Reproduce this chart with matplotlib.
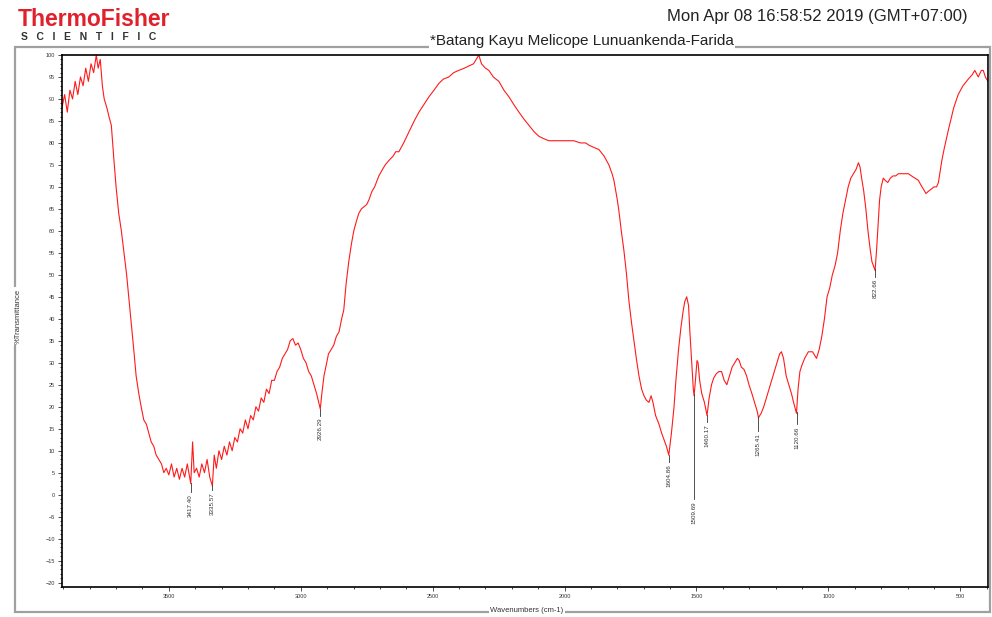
import numpy as np
import matplotlib
matplotlib.use("Agg")
import matplotlib.pyplot as plt
from matplotlib.ticker import MultipleLocator
from matplotlib.patches import Rectangle

# IR spectrum, wavenumber (cm-1) vs %T
wavenumber = [
    3905, 3895, 3885, 3875, 3865, 3855, 3845, 3835, 3825, 3815,
    3805, 3795, 3785, 3775, 3768, 3760, 3752, 3745, 3735, 3727,
    3718, 3708, 3700, 3690, 3680, 3670, 3660, 3652, 3642, 3633,
    3624, 3614, 3605, 3595, 3585, 3576, 3567, 3557, 3548, 3538,
    3528, 3519, 3510, 3500, 3490, 3480, 3470, 3460, 3450, 3440,
    3430, 3417, 3410, 3404, 3395, 3385, 3375, 3365, 3355, 3345,
    3335, 3328, 3320, 3310, 3300, 3290, 3280, 3270, 3260, 3250,
    3240, 3230, 3220, 3210, 3200, 3190, 3180, 3170, 3160, 3150,
    3140, 3130, 3120, 3110, 3100, 3090, 3080, 3070, 3060, 3050,
    3040, 3030, 3020, 3010, 3000, 2990, 2980, 2970, 2960, 2950,
    2940, 2932, 2926, 2920, 2912, 2905, 2895, 2885, 2875, 2865,
    2855, 2845, 2837, 2828, 2818, 2808, 2799, 2790, 2780, 2770,
    2760, 2750, 2742, 2730, 2720, 2704, 2690, 2680, 2666, 2650,
    2640, 2628, 2610, 2590, 2570, 2552, 2530, 2514, 2495, 2477,
    2460, 2439, 2420, 2401, 2380, 2363, 2345, 2330, 2325, 2315,
    2300, 2287, 2270, 2249, 2230, 2211, 2190, 2173, 2155, 2135,
    2115, 2097, 2080, 2060, 2040, 2022, 2000, 1980, 1965, 1940,
    1920, 1908, 1890, 1870, 1850, 1832, 1820, 1813, 1800, 1794,
    1785, 1775, 1765, 1756, 1746, 1737, 1728, 1718, 1708, 1699,
    1690, 1680, 1672, 1665, 1655, 1642, 1632, 1623, 1614, 1605,
    1595, 1585, 1578, 1568, 1559, 1550, 1544, 1537, 1530, 1525,
    1518, 1512, 1509, 1504, 1498, 1494, 1488, 1480, 1470, 1460,
    1452, 1443, 1435, 1425, 1415, 1405, 1395, 1385, 1375, 1365,
    1355, 1345, 1338, 1330, 1320, 1310, 1301, 1290, 1280, 1270,
    1265, 1255, 1245, 1235, 1225, 1215, 1205, 1195, 1185, 1178,
    1170, 1160, 1150, 1140, 1132, 1121, 1115, 1108, 1100, 1090,
    1076, 1060, 1045, 1035, 1025, 1015, 1005, 995, 985, 975,
    965, 955, 945, 935, 925, 915, 905, 895, 886, 880,
    874, 866, 858, 850, 842, 835, 829, 823, 817, 812,
    806, 800, 792, 785, 775, 765, 755, 745, 735, 720,
    710, 697, 685, 672, 659, 650, 640, 630, 621, 610,
    600, 590, 583, 570, 560, 545, 535, 525, 508, 490,
    470, 455, 445, 432, 420, 413, 405, 395,
]
transmittance = [
    88, 91, 87, 92, 90, 94, 91, 95, 93, 97,
    94, 98, 96, 100, 97, 99, 93, 90, 88, 86,
    84, 76, 70, 64, 60, 55, 50, 45, 39, 33,
    27, 23, 20, 17, 16, 14, 12, 11, 9, 8,
    7, 5, 6, 4.5, 7, 4, 6, 3.5, 6, 4,
    7, 2.5, 12, 5, 6, 4, 7, 5, 8, 4,
    2, 9, 6, 10, 8, 11, 9, 12, 10, 13,
    12, 15, 14, 17, 15, 18, 17, 20, 19, 22,
    21, 24, 23, 26, 26, 28, 29, 31, 32, 33,
    35, 35.5, 34, 34.5, 33, 31, 30, 28, 27, 25,
    23, 21, 19.5, 23, 27, 29, 32, 33, 34, 36,
    37, 40, 42, 48, 53, 57, 60, 62, 64, 65,
    65.5, 66, 67, 69, 70, 72.5, 74, 75, 76, 77,
    78, 78, 80, 82.5, 85, 87, 89, 90.5, 92, 93.5,
    94.5, 95, 96, 96.5, 97, 97.5, 98, 99.5, 100, 98,
    97, 96.5, 95, 94, 92, 90.5, 88.5, 87, 85.5, 84,
    82.5, 81.5, 81, 80.5, 80.5, 80.5, 80.5, 80.5, 80.5, 80,
    80, 79.5, 79, 78.5, 77, 75, 73, 71.5, 67, 64.5,
    60, 55.5, 50, 44, 39, 35, 31, 27, 24, 22.5,
    21.5, 21, 22.5, 21, 18, 16, 14, 12.5, 11, 9,
    14, 20, 26, 33, 38, 42, 44, 45, 43, 37,
    30, 24, 22.5, 26, 30.5, 30, 26, 23, 21, 18,
    22, 25, 26.5, 27.5, 28, 28, 26, 25, 27, 29,
    30, 31, 30.5, 29, 28.5, 27, 25, 23, 21, 19,
    17.5, 18.5, 20, 22, 24, 26, 28, 30, 32, 32.5,
    31, 27, 25, 23, 21, 18.5, 24, 28, 29.5, 31,
    32.5, 32.5, 31, 33, 36, 40, 45, 47, 50, 52,
    55, 60, 64, 67, 70, 72, 73, 74, 75.5, 74.5,
    72, 69, 65, 60, 56, 53, 52, 51, 56, 61,
    67, 70, 72, 71.5, 71, 72, 72.5, 72.5, 73, 73,
    73, 73, 72.5, 72, 71.5, 70.5, 69.5, 68.5, 69, 69.5,
    70, 70, 71, 76, 79, 83, 85.5, 88, 91, 93,
    94.5, 95.5, 96.5, 95, 96.5, 96.5, 95, 94,
]

# peak picks and where their labels start (in %T)
peak_wn = [3417.40, 3335.57, 2926.29, 1604.86, 1509.69, 1460.17, 1265.41, 1120.66, 822.66]
peak_text = ["3417.40", "3335.57", "2926.29", "1604.86", "1509.69", "1460.17", "1265.41", "1120.66", "822.66"]
label_top = [0.5, 1.0, 18, 7.5, -1, 16.5, 14.5, 16, 49.5]

W, H = 992, 617
fig = plt.figure(figsize=(W / 100, H / 100), dpi=100)
plt.rcParams['font.family'] = ['Liberation Sans', 'DejaVu Sans']

def fx(px):
    return px / W

def fy(py):
    return 1 - py / H

# grey outer frame
fig.add_artist(Rectangle((fx(15), fy(612)), fx(990) - fx(15), fy(47) - fy(612),
                         transform=fig.transFigure, fill=False, ec='#a0a0a0', lw=1.6))

ax = fig.add_axes([fx(62), fy(587), fx(988) - fx(62), fy(55) - fy(587)])
ax.plot(wavenumber, transmittance, color='#ff1a1a', lw=0.8)

wn_sorted = np.array(wavenumber[::-1], dtype=float)
t_sorted = np.array(transmittance[::-1], dtype=float)
for w, txt, top in zip(peak_wn, peak_text, label_top):
    yv = np.interp(w, wn_sorted, t_sorted)
    ax.plot([w, w], [yv, top], color='#333333', lw=0.6)
    ax.text(w, top - 0.5, txt, rotation=90, ha='center', va='top', fontsize=4.5, color='#333333')

ax.set_xlim(3905, 395)
ax.set_ylim(-21, 100)
ax.xaxis.set_major_locator(MultipleLocator(500))
ax.xaxis.set_minor_locator(MultipleLocator(100))
ax.yaxis.set_major_locator(MultipleLocator(5))
ax.yaxis.set_minor_locator(MultipleLocator(1))
ax.tick_params(which='major', direction='out', length=3, width=0.6, labelsize=4, colors='#333333', pad=2)
ax.tick_params(which='minor', direction='out', length=1.5, width=0.5)
for s in ax.spines.values():
    s.set_linewidth(1.2)
    s.set_color('black')

# axis titles sit on the grey frame
fig.text(fx(527), fy(611), "Wavenumbers (cm-1)", ha='center', va='center', fontsize=5.5, color='#333333',
         bbox=dict(fc='white', ec='none', pad=1))
fig.text(fx(18), fy(316), "%Transmittance", ha='center', va='center', rotation=90, fontsize=5.5, color='#333333',
         bbox=dict(fc='white', ec='none', pad=1))

# header
fig.text(fx(18), fy(20), "ThermoFisher", ha='left', va='center', fontsize=16.5, fontweight='bold', color='#e0202a')
fig.text(fx(21), fy(37), "S   C   I   E   N   T   I   F   I   C", ha='left', va='center', fontsize=7.5,
         fontweight='bold', color='#333333')
fig.text(fx(968), fy(17), "Mon Apr 08 16:58:52 2019 (GMT+07:00)", ha='right', va='center', fontsize=12, color='#222222')
fig.text(fx(582), fy(41), "*Batang Kayu Melicope Lunuankenda-Farida", ha='center', va='center', fontsize=11, color='#222222',
         bbox=dict(fc='white', ec='none', pad=0.5))

fig.savefig("out.png", dpi=100)
